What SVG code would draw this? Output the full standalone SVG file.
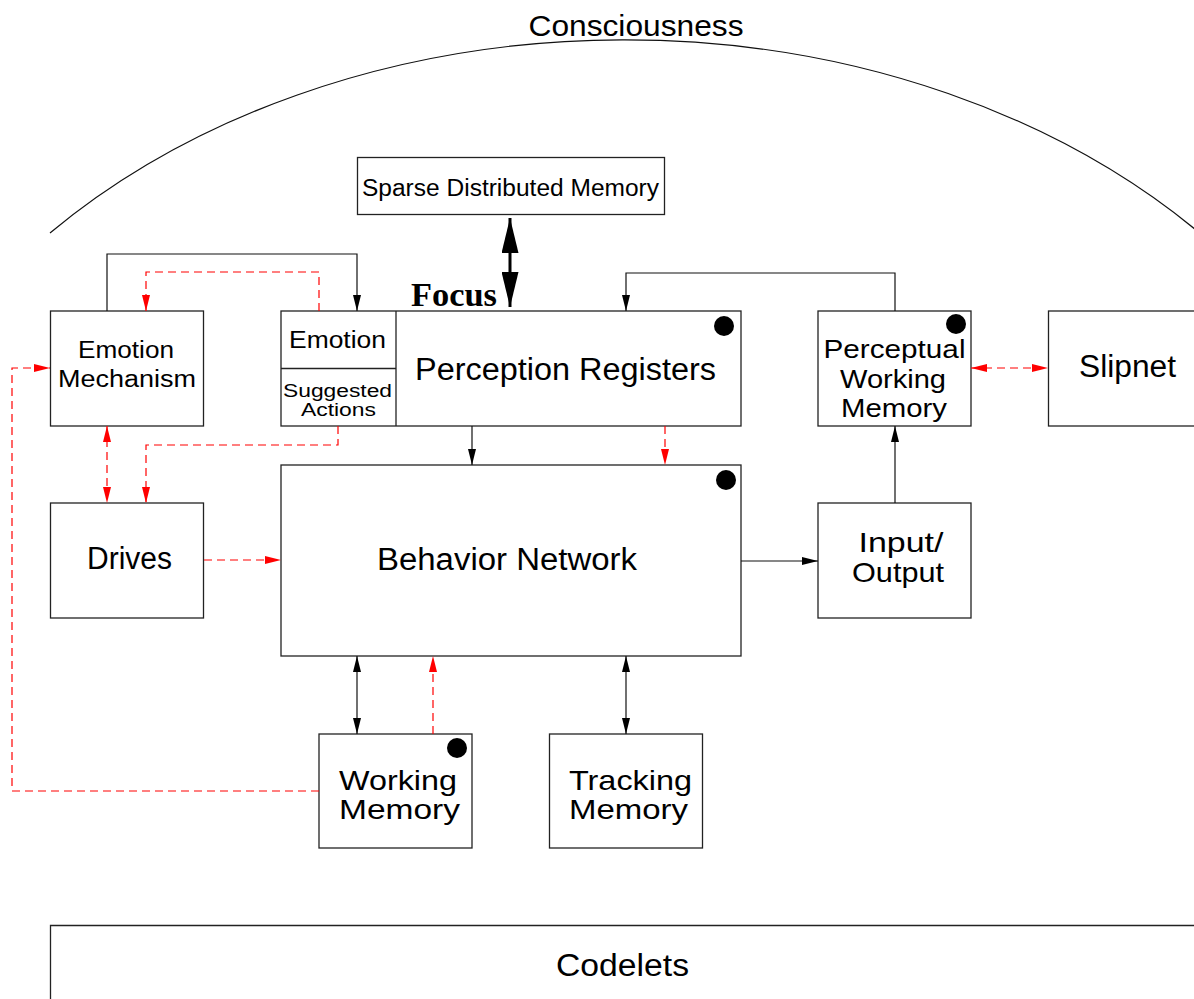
<svg xmlns="http://www.w3.org/2000/svg" width="1194" height="999" viewBox="0 0 1194 999">
<style>
.box{fill:#fff;stroke:#222;stroke-width:1.3}
.t{font-family:"Liberation Sans",Arial,sans-serif;fill:#000;text-anchor:middle}
.ts{font-family:"Liberation Sans",Arial,sans-serif;fill:#000;text-anchor:start}
.k{fill:none;stroke:#111;stroke-width:1.2}
.r{fill:none;stroke:#f00;stroke-width:1.2;stroke-dasharray:8 5}
.dot{fill:#000}
</style>
<defs>
<marker id="ab" viewBox="0 0 16 8" refX="16" refY="4" markerWidth="16" markerHeight="8" markerUnits="userSpaceOnUse" orient="auto-start-reverse"><path d="M0,0 L16,4 L0,8 z" fill="#000"/></marker>
<marker id="ar" viewBox="0 0 16 8" refX="16" refY="4" markerWidth="16" markerHeight="8" markerUnits="userSpaceOnUse" orient="auto-start-reverse"><path d="M0,0 L16,4 L0,8 z" fill="#f00"/></marker>
<marker id="abig" viewBox="0 0 35 17" refX="35" refY="8.5" markerWidth="35" markerHeight="17" markerUnits="userSpaceOnUse" orient="auto-start-reverse"><path d="M0,0 L35,8.5 L0,17 z" fill="#000"/></marker>
</defs>
<rect width="1194" height="999" fill="#fff"/>

<g id="consciousness">
<path d="M50,233 A780,596 0 0 1 1196,230" fill="none" stroke="#111" stroke-width="1.2"/>
<text class="t" x="636" y="36" font-size="30" textLength="215" lengthAdjust="spacingAndGlyphs">Consciousness</text>
</g>

<g id="sdm">
<rect class="box" x="357.5" y="157.5" width="307" height="57"/>
<text class="t" x="510.5" y="196" font-size="23" textLength="297" lengthAdjust="spacingAndGlyphs">Sparse Distributed Memory</text>
</g>

<g id="focus">
<text x="411" y="306" font-family="'Liberation Serif','Times New Roman',serif" font-weight="bold" font-size="34" textLength="86" lengthAdjust="spacingAndGlyphs">Focus</text>
</g>

<g id="emotion-mechanism">
<rect class="box" x="50.5" y="311" width="153" height="115"/>
<text class="t" x="126" y="358" font-size="23" textLength="96" lengthAdjust="spacingAndGlyphs">Emotion</text>
<text class="t" x="127" y="387" font-size="23" textLength="138" lengthAdjust="spacingAndGlyphs">Mechanism</text>
</g>

<g id="perception-registers">
<rect class="box" x="281" y="311" width="460" height="115"/>
<line x1="396" y1="311" x2="396" y2="426" stroke="#222" stroke-width="1.3"/>
<line x1="281" y1="368.5" x2="396" y2="368.5" stroke="#222" stroke-width="1.3"/>
<text class="t" x="337.5" y="348" font-size="23" textLength="97" lengthAdjust="spacingAndGlyphs">Emotion</text>
<text class="t" x="337.5" y="397" font-size="18" textLength="109" lengthAdjust="spacingAndGlyphs">Suggested</text>
<text class="t" x="338.5" y="416" font-size="18" textLength="75" lengthAdjust="spacingAndGlyphs">Actions</text>
<text class="t" x="565.5" y="380" font-size="31" textLength="301" lengthAdjust="spacingAndGlyphs">Perception Registers</text>
<circle class="dot" cx="724" cy="326" r="10"/>
</g>

<g id="perceptual-working-memory">
<rect class="box" x="818" y="311" width="153" height="115"/>
<text class="t" x="894.5" y="358" font-size="25" textLength="142" lengthAdjust="spacingAndGlyphs">Perceptual</text>
<text class="t" x="893" y="388" font-size="25" textLength="106" lengthAdjust="spacingAndGlyphs">Working</text>
<text class="t" x="894" y="417" font-size="25" textLength="106" lengthAdjust="spacingAndGlyphs">Memory</text>
<circle class="dot" cx="956" cy="324" r="10"/>
</g>

<g id="slipnet">
<rect class="box" x="1048.5" y="311" width="160" height="115"/>
<text class="t" x="1127.5" y="377" font-size="31" textLength="97" lengthAdjust="spacingAndGlyphs">Slipnet</text>
</g>

<g id="drives">
<rect class="box" x="50.5" y="503" width="153" height="115"/>
<text class="t" x="129.5" y="569" font-size="31" textLength="85" lengthAdjust="spacingAndGlyphs">Drives</text>
</g>

<g id="behavior-network">
<rect class="box" x="281" y="465" width="460" height="191"/>
<text class="t" x="507" y="570" font-size="31" textLength="260" lengthAdjust="spacingAndGlyphs">Behavior Network</text>
<circle class="dot" cx="726" cy="480" r="10"/>
</g>

<g id="input-output">
<rect class="box" x="818" y="503" width="153" height="115"/>
<text class="t" x="901" y="552" font-size="28" textLength="85" lengthAdjust="spacingAndGlyphs">Input/</text>
<text class="t" x="898" y="582" font-size="28" textLength="92" lengthAdjust="spacingAndGlyphs">Output</text>
</g>

<g id="working-memory">
<rect class="box" x="319" y="734" width="153" height="114"/>
<text class="ts" x="339" y="790" font-size="28" textLength="118" lengthAdjust="spacingAndGlyphs">Working</text>
<text class="ts" x="339" y="819" font-size="28" textLength="121" lengthAdjust="spacingAndGlyphs">Memory</text>
<circle class="dot" cx="457" cy="748" r="10"/>
</g>

<g id="tracking-memory">
<rect class="box" x="549.5" y="734" width="153" height="114"/>
<text class="ts" x="569" y="790" font-size="28" textLength="123" lengthAdjust="spacingAndGlyphs">Tracking</text>
<text class="ts" x="569" y="819" font-size="28" textLength="119" lengthAdjust="spacingAndGlyphs">Memory</text>
</g>

<g id="codelets">
<path d="M50.5,1000 V925.5 H1196" fill="none" stroke="#222" stroke-width="1.3"/>
<text class="t" x="622.5" y="976" font-size="31" textLength="133" lengthAdjust="spacingAndGlyphs">Codelets</text>
</g>

<g id="connectors">
<path class="k" d="M107,311 V254 H357 V311" marker-end="url(#ab)"/>
<path class="r" d="M319,311 V272 H146 V311" marker-end="url(#ar)"/>
<path d="M510,218 V307" fill="none" stroke="#000" stroke-width="3" marker-start="url(#abig)" marker-end="url(#abig)"/>
<path class="k" d="M895,311 V273 H626 V311" marker-end="url(#ab)"/>
<path class="k" d="M472,426 V465" marker-end="url(#ab)"/>
<path class="r" d="M665,426 V465" marker-end="url(#ar)"/>
<path class="r" d="M338,426 V445 H146 V503" marker-end="url(#ar)"/>
<path class="r" d="M107,426 V503" marker-start="url(#ar)" marker-end="url(#ar)"/>
<path class="r" d="M204,560 H281" marker-end="url(#ar)"/>
<path class="r" d="M319,791 H12 V368 H50" marker-end="url(#ar)"/>
<path class="k" d="M357,656 V734" marker-start="url(#ab)" marker-end="url(#ab)"/>
<path class="r" d="M433,734 V656" marker-end="url(#ar)"/>
<path class="k" d="M626,656 V734" marker-start="url(#ab)" marker-end="url(#ab)"/>
<path class="k" d="M741,561 H818" marker-end="url(#ab)"/>
<path class="k" d="M895,503 V426" marker-end="url(#ab)"/>
<path class="r" d="M971,368 H1048" marker-start="url(#ar)" marker-end="url(#ar)"/>
</g>
</svg>
